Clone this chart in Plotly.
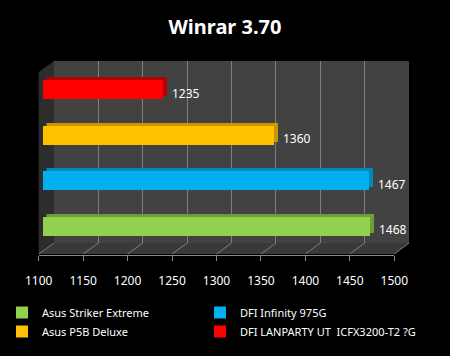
import plotly.graph_objects as go

# ---- data ----
categories = ["Asus Striker Extreme", "DFI Infinity 975G", "Asus P5B Deluxe",
              "DFI LANPARTY UT  ICFX3200-T2 ?G"]
values = [1468, 1467, 1360, 1235]
face_colors = ["#92d050", "#00b0f0", "#ffc000", "#ff0000"]
top_colors = ["#6f9e37", "#0087bd", "#c99700", "#b30000"]
legend_column = ["legend", "legend2", "legend", "legend2"]
x_ticks = [1100, 1150, 1200, 1250, 1300, 1350, 1400, 1450, 1500]
x_range = [1100, 1500]
title_text = "Winrar 3.70"

W, H = 450, 356
FONT = "Noto Sans"


def px(x):
    return x / W


def py(y):
    return 1 - y / H


# geometry (pixels)
back_l, back_r, back_t, back_b = 54, 409, 61, 243
front_l, front_r, front_y = 38.7, 394.3, 254
bar_l, bar_r = 43, 398
cat_top, cat_bot = 67.25, 249.25
dx, dy = 3.5, 3

fig = go.Figure()

# back (top/side) faces on x2/y2
for c, v, col in zip(categories, values, top_colors):
    fig.add_trace(go.Bar(x=[v], y=[c], orientation="h", marker=dict(color=col, line=dict(width=0)),
                         width=0.41, xaxis="x2", yaxis="y2", showlegend=False, hoverinfo="skip"))
# front faces on x3/y3
for c, v, col, lg in zip(categories, values, face_colors, legend_column):
    fig.add_trace(go.Bar(x=[v], y=[c], orientation="h", name=c, legend=lg,
                         marker=dict(color=col, line=dict(width=0)),
                         width=0.41, xaxis="x3", yaxis="y3"))
# dummy traces so the grid and label axes are drawn
fig.add_trace(go.Scatter(x=x_range, y=[0, 1], mode="markers", marker=dict(opacity=0),
                         xaxis="x", yaxis="y", showlegend=False, hoverinfo="skip"))
fig.add_trace(go.Scatter(x=x_range, y=[0, 1], mode="markers", marker=dict(opacity=0),
                         xaxis="x4", yaxis="y4", showlegend=False, hoverinfo="skip"))

# value labels
for c, v in zip(categories, values):
    fig.add_annotation(x=v, y=c, xref="x3", yref="y3", text=str(v), showarrow=False,
                       xanchor="left", yanchor="middle", xshift=7, yshift=-3,
                       font=dict(color="white", size=12, family=FONT))

# walls (decorative)
shapes = []
shapes.append(dict(type="rect", xref="paper", yref="paper", x0=px(back_l), x1=px(back_r),
                   y0=py(back_b), y1=py(back_t), fillcolor="#424242", line=dict(width=0), layer="below"))
shapes.append(dict(type="path", xref="paper", yref="paper",
                   path=f"M{px(front_l)},{py(back_t + (front_y - back_b))} L{px(back_l)},{py(back_t)} "
                        f"L{px(back_l)},{py(back_b)} L{px(front_l)},{py(front_y)} Z",
                   fillcolor="#2d2d2d", line=dict(width=0), layer="below"))
shapes.append(dict(type="path", xref="paper", yref="paper",
                   path=f"M{px(back_l)},{py(back_b)} L{px(back_r)},{py(back_b)} "
                        f"L{px(front_r)},{py(front_y)} L{px(front_l)},{py(front_y)} Z",
                   fillcolor="#393939", line=dict(width=0), layer="below"))
for t in x_ticks:
    f = (t - x_range[0]) / (x_range[1] - x_range[0])
    xb = back_l + f * (back_r - back_l)
    xf = front_l + f * (front_r - front_l)
    shapes.append(dict(type="line", xref="paper", yref="paper", x0=px(xb), y0=py(back_b),
                       x1=px(xf), y1=py(front_y), line=dict(color="#7f7f7f", width=1), layer="below"))
fig.update_layout(shapes=shapes)

legend_style = dict(orientation="v", xanchor="left", y=py(298), yanchor="top",
                    traceorder="normal", indentation=-6,
                    font=dict(color="white", size=11, family=FONT), bgcolor="rgba(0,0,0,0)",
                    itemclick=False, itemdoubleclick=False)

fig.update_layout(
    width=W, height=H,
    margin=dict(l=0, r=0, t=0, b=0, autoexpand=False),
    paper_bgcolor="black", plot_bgcolor="rgba(0,0,0,0)",
    bargap=0, barmode="overlay",
    title=dict(text=f"<b>{title_text}</b>", x=0.5, xanchor="center", y=py(27), yanchor="middle",
               font=dict(color="white", size=20, family=FONT)),
    xaxis=dict(domain=[px(back_l), px(back_r)], range=x_range, tickvals=x_ticks, showgrid=True,
               gridcolor="#7f7f7f", gridwidth=1, showticklabels=False, ticks="", zeroline=False,
               showline=False, anchor="y", fixedrange=True),
    yaxis=dict(domain=[py(back_b), py(back_t)], range=[0, 1], visible=False, anchor="x"),
    xaxis2=dict(domain=[px(bar_l + dx), px(bar_r + dx)], range=x_range, visible=False, anchor="y2"),
    yaxis2=dict(domain=[py(cat_bot) + dy / H, py(cat_top) + dy / H], type="category",
                categoryorder="array", categoryarray=categories, visible=False, anchor="x2"),
    xaxis3=dict(domain=[px(bar_l), px(bar_r)], range=x_range, visible=False, anchor="y3"),
    yaxis3=dict(domain=[py(cat_bot), py(cat_top)], type="category",
                categoryorder="array", categoryarray=categories, visible=False, anchor="x3"),
    xaxis4=dict(domain=[px(front_l), px(front_r)], range=x_range, tickvals=x_ticks,
                showgrid=False, zeroline=False, showline=True, linecolor="#8a8a8a", linewidth=1,
                ticks="outside", ticklen=5, tickcolor="#8a8a8a", ticklabelstandoff=10,
                tickfont=dict(color="white", size=12, family=FONT), anchor="y4"),
    yaxis4=dict(domain=[py(front_y + 1), py(front_y)], range=[0, 1], visible=False, anchor="x4"),
    legend=dict(x=8 / W, **legend_style),
    legend2=dict(x=206 / W, **legend_style),
    showlegend=True,
)

fig.write_html("out.html", config={"displayModeBar": False},
               post_script="document.body.style.margin='0';")
